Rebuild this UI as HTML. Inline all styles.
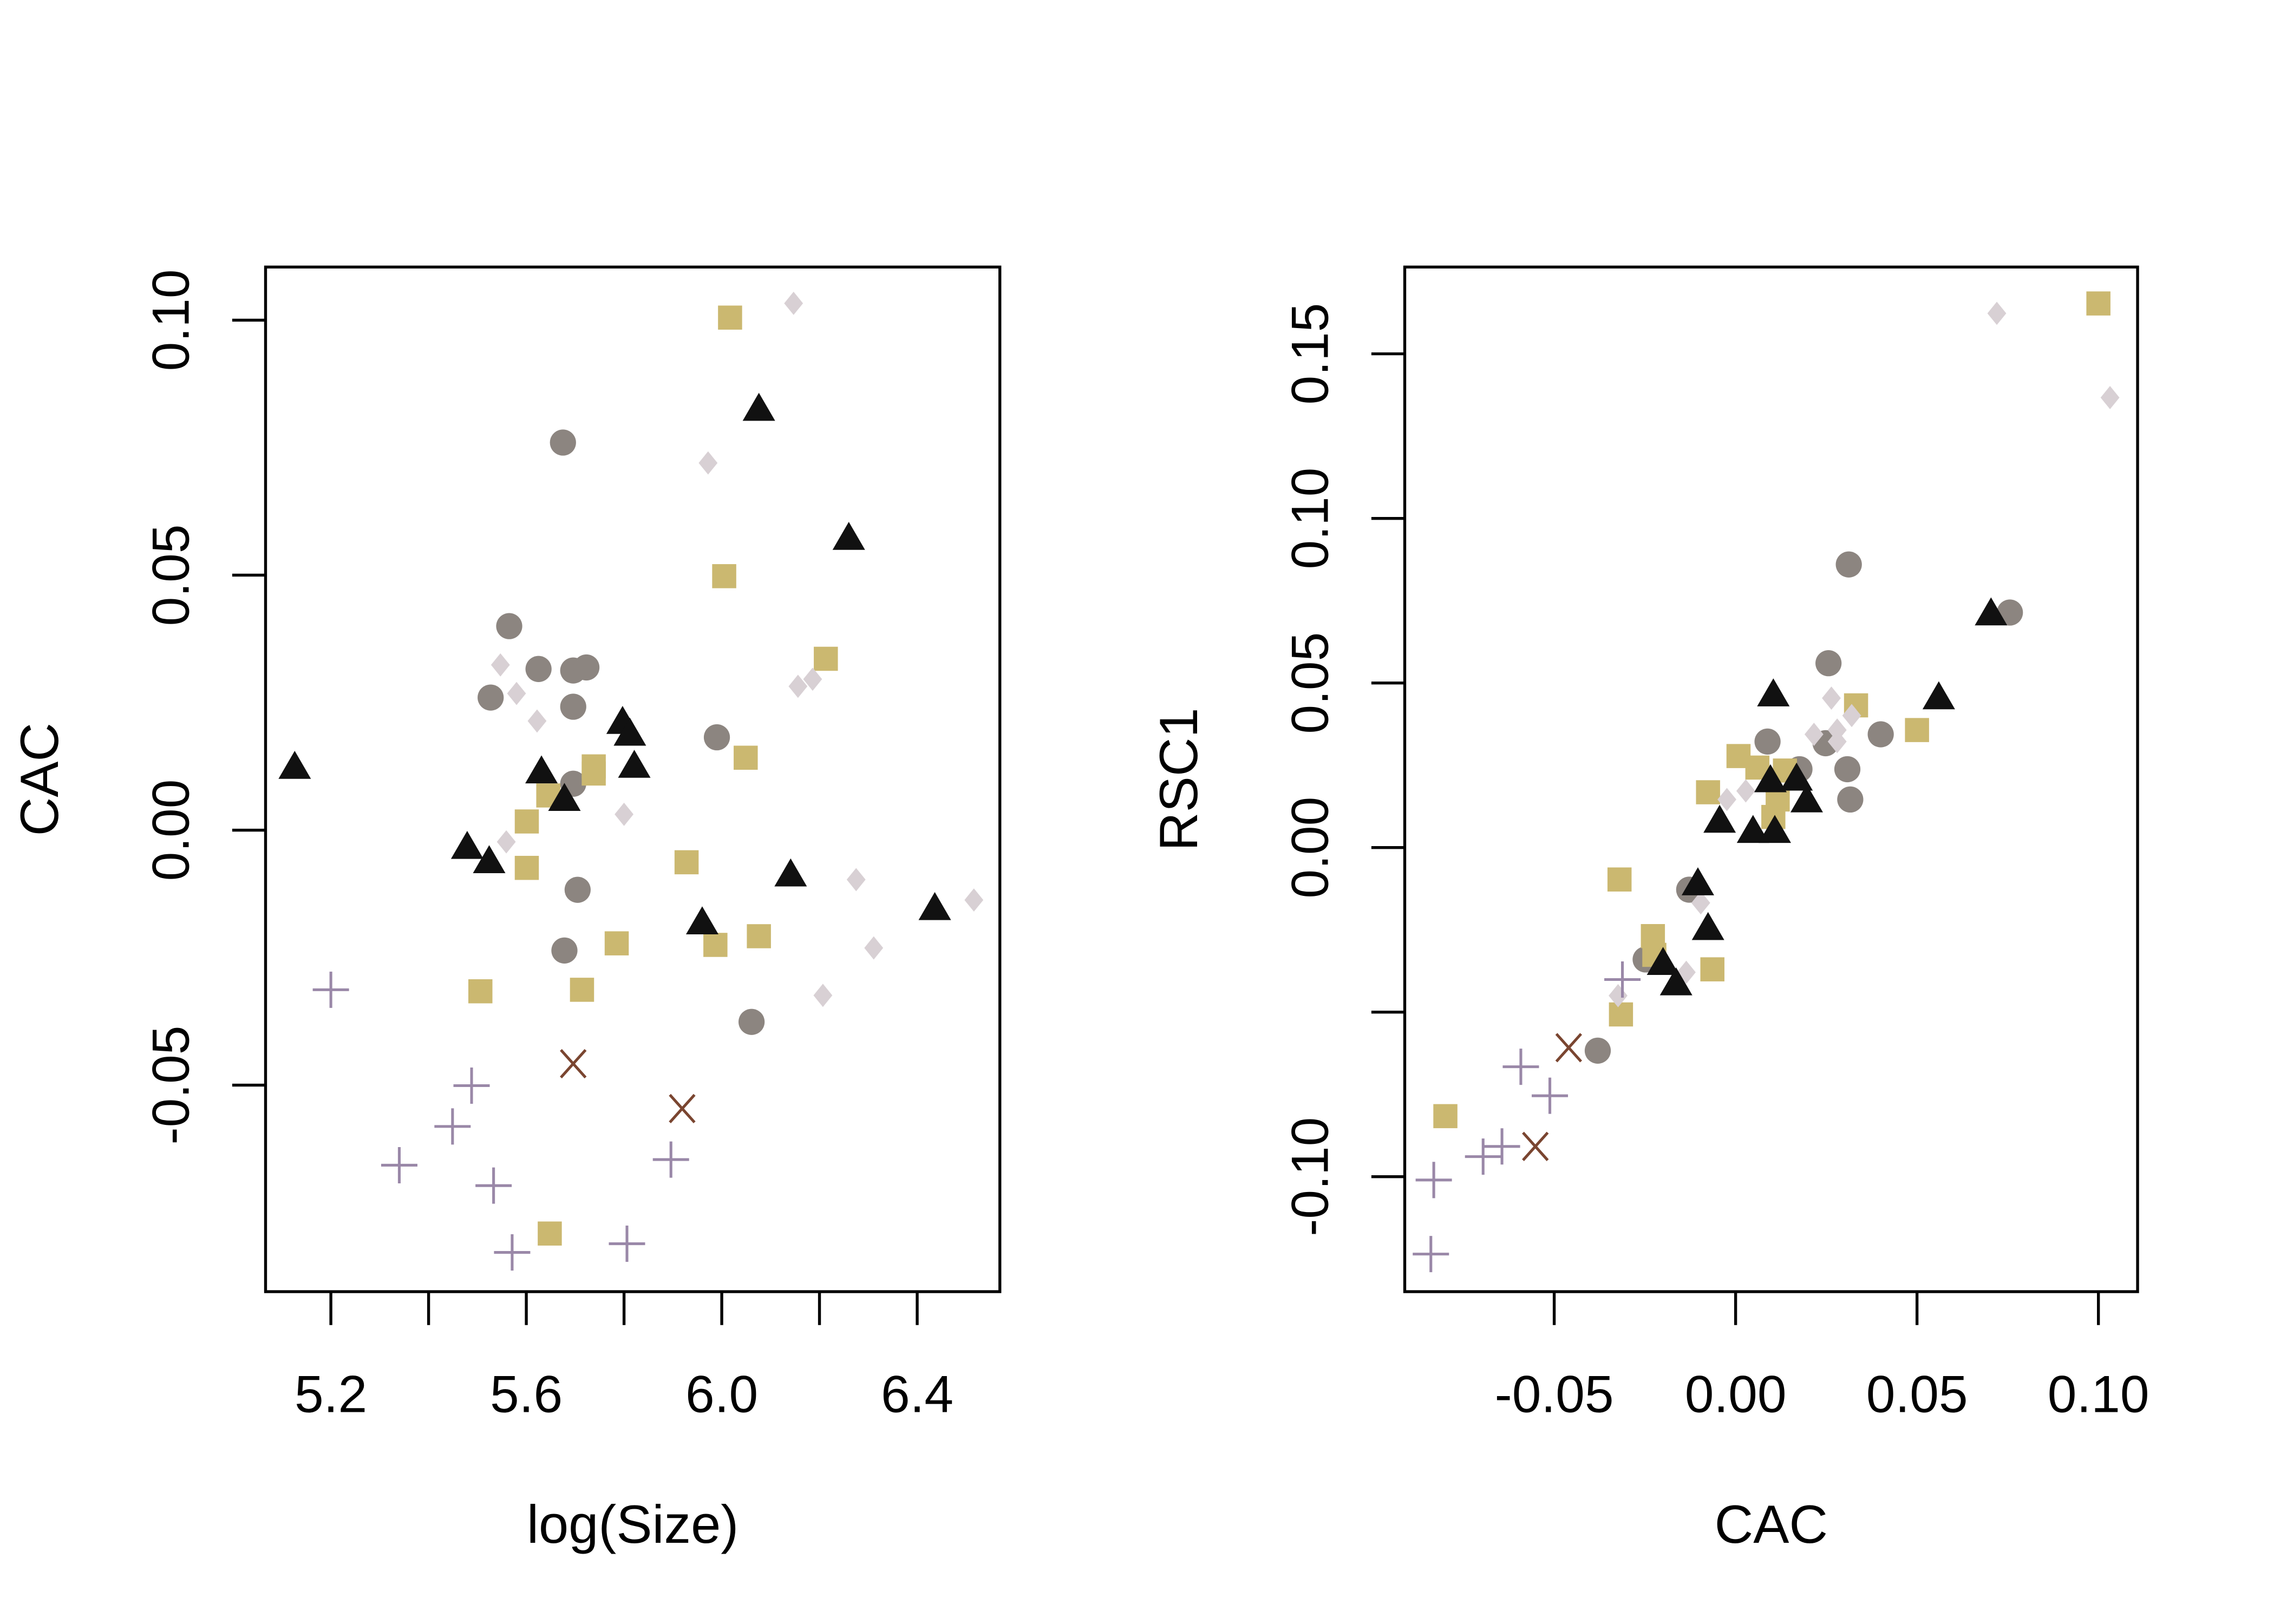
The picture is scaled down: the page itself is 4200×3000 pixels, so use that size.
<!DOCTYPE html>
<html><head><meta charset="utf-8"><style>
html,body{margin:0;padding:0;background:#fff;}
svg{display:block;}
text{font-family:"Liberation Sans",Arial,sans-serif;fill:#000;}
</style></head><body>
<svg id="chart" width="4200" height="3000" viewBox="0 0 1567 1119" preserveAspectRatio="none" xmlns="http://www.w3.org/2000/svg">
<g id="left"></g>
<g id="right"></g>
</svg>
<script>
// Left panel data: log(Size) vs CAC
const L_circle_x=[5.675,5.565,5.527,5.625,5.696,5.723,5.696,5.696,5.705,5.678,5.990,6.061];
const L_circle_y=[0.076,0.040,0.026,0.0316,0.0313,0.0319,0.0242,0.0091,-0.0117,-0.0236,0.0182,-0.0376];
const L_tri_x=[5.126,5.479,5.524,5.631,5.678,5.797,5.812,5.821,5.960,6.076,6.260,6.141,6.436];
const L_tri_y=[0.012,-0.0037,-0.0065,0.0111,0.0057,0.0208,0.0185,0.0122,-0.0185,0.0822,0.0569,-0.0091,-0.0157];
const L_sq_x=[6.017,6.005,6.213,6.049,5.738,5.738,5.645,5.601,5.601,5.928,5.785,5.987,6.076,5.506,5.714,5.648];
const L_sq_y=[0.1005,0.0498,0.0336,0.0142,0.0125,0.0111,0.0068,0.0017,-0.0074,-0.0063,-0.0222,-0.0225,-0.0208,-0.0316,-0.0313,-0.0791];
const L_dia_x=[6.147,5.972,5.547,5.580,5.622,5.559,5.800,6.156,6.186,6.275,6.311,6.207,6.516];
const L_dia_y=[0.1033,0.072,0.0324,0.0268,0.0214,-0.0023,0.0031,0.0282,0.0296,-0.0097,-0.0231,-0.0324,-0.0137];
const L_plus_x=[5.200,5.488,5.449,5.340,5.533,5.571,5.806,5.896];
const L_plus_y=[-0.0313,-0.0501,-0.0581,-0.0657,-0.0697,-0.0828,-0.0811,-0.0646];
const L_x_x=[5.696,5.919];
const L_x_y=[-0.0458,-0.0546];
const L_xticks=[5.2,5.4,5.6,5.8,6.0,6.2,6.4];
const L_xlabels=["5.2","","5.6","","6.0","","6.4"];
const L_yticks=[-0.05,0.00,0.05,0.10];
const L_ylabels=["-0.05","0.00","0.05","0.10"];
// Right panel data: CAC vs RSC1
const R_circle_x=[0.0312,0.0756,0.0256,0.0088,0.0176,0.0248,0.04,0.0308,0.0316,-0.0128,-0.0248,-0.038];
const R_circle_y=[0.0860,0.0714,0.0560,0.0322,0.0238,0.0317,0.0344,0.0238,0.0146,-0.0128,-0.034,-0.0617];
const R_tri_x=[0.0704,0.056,0.0104,0.0096,0.0168,0.0196,0.0048,0.0108,-0.0044,-0.0104,-0.0076,-0.02,-0.0164];
const R_tri_y=[0.0705,0.045,0.0459,0.0198,0.0203,0.0137,0.0044,0.0044,0.0075,-0.0115,-0.0251,-0.0357,-0.0419];
const R_sq_x=[0.1,0.0332,0.05,0.0008,0.006,0.0136,-0.0076,0.0116,0.0104,-0.032,-0.0228,-0.0224,-0.0064,-0.0316,-0.08];
const R_sq_y=[0.1653,0.0432,0.0357,0.0278,0.0243,0.0234,0.0168,0.0146,0.0093,-0.0097,-0.0269,-0.0326,-0.037,-0.0507,-0.0816];
const R_dia_x=[0.072,0.1032,0.0264,0.032,0.0216,0.028,-0.0024,0.0028,-0.0096,-0.0136,-0.0324,0.028];
const R_dia_y=[0.1623,0.1367,0.0454,0.0401,0.0344,0.0322,0.0146,0.0172,-0.0168,-0.0379,-0.045,0.0357];
const R_plus_x=[-0.0312,-0.0592,-0.0512,-0.0644,-0.0696,-0.0832,-0.084];
const R_plus_y=[-0.0401,-0.0666,-0.0754,-0.0908,-0.0939,-0.101,-0.1235];
const R_x_x=[-0.046,-0.0552];
const R_x_y=[-0.0608,-0.0908];
const R_xticks=[-0.05,0.00,0.05,0.10];
const R_xlabels=["-0.05","0.00","0.05","0.10"];
const R_yticks=[-0.10,-0.05,0.00,0.05,0.10,0.15];
const R_ylabels=["-0.10","","0.00","0.05","0.10","0.15"];

const NS="http://www.w3.org/2000/svg";
function mk(tag,attrs,parent){const e=document.createElementNS(NS,tag);for(const k in attrs)e.setAttribute(k,attrs[k]);parent.appendChild(e);return e;}

function panel(g,box,sx,sy,xticks,xlabels,yticks,ylabels,xtitle,ytitle,series){
  const r=mk('rect',{x:box.x0,y:box.y0,width:box.x1-box.x0,height:box.y1-box.y0,fill:'none',stroke:'#000','stroke-width':2},g);
  
  
  xticks.forEach((v,i)=>{
    const x=sx(v);
    const t=mk('line',{x1:x,x2:x,y1:box.y1,y2:box.y1+23,stroke:'#000','stroke-width':2},g);
    
    
    if(xlabels[i]){
      const tx=mk('text',{x:x,y:box.y1+83,'font-size':36,'text-anchor':'middle'},g);
      tx.textContent=xlabels[i];
      
      
    }
  });
  yticks.forEach((v,i)=>{
    const y=sy(v);
    const t=mk('line',{x1:box.x0-23,x2:box.x0,y1:y,y2:y,stroke:'#000','stroke-width':2},g);
    
    
    if(ylabels[i]){
      const tx=mk('text',{x:0,y:0,'font-size':36,'text-anchor':'middle',transform:`translate(${box.x0-53},${y}) rotate(-90)`},g);
      tx.textContent=ylabels[i];
      
      
    }
  });
  const xt=mk('text',{x:(box.x0+box.x1)/2,y:box.y1+173,'font-size':37,'text-anchor':'middle'},g);
  xt.textContent=xtitle;
  
  
  const yt=mk('text',{x:0,y:0,'font-size':37,'text-anchor':'middle',transform:`translate(${box.x0-143},${(box.y0+box.y1)/2}) rotate(-90)`},g);
  yt.textContent=ytitle;
  
  
  series.forEach(s=>{
    s.xs.forEach((xv,i)=>{
      const x=sx(xv), y=sy(s.ys[i]);
      let e;
      if(s.shape==='circle') e=mk('circle',{cx:x,cy:y,r:9,fill:'#8c8580'},g);
      else if(s.shape==='tri') e=mk('polygon',{points:`${x},${y-12.5} ${x-11.2},${y+6.8} ${x+11.2},${y+6.8}`,fill:'#111'},g);
      else if(s.shape==='sq') e=mk('rect',{x:x-8.3,y:y-8.3,width:16.6,height:16.6,fill:'#cbb870'},g);
      else if(s.shape==='dia') e=mk('polygon',{points:`${x},${y-8} ${x+6.5},${y} ${x},${y+8} ${x-6.5},${y}`,fill:'#d8d0d4'},g);
      else if(s.shape==='plus') e=mk('path',{d:`M${x-12.5},${y}H${x+12.5}M${x},${y-12.5}V${y+12.5}`,stroke:'#9a88a8','stroke-width':1.9,fill:'none'},g);
      else e=mk('path',{d:`M${x-8.5},${y-9.5}L${x+8.5},${y+9.5}M${x+8.5},${y-9.5}L${x-8.5},${y+9.5}`,stroke:'#7a4530','stroke-width':1.9,fill:'none'},g);
      
      
    });
  });
}
const lbox={x0:183,x1:689,y0:184,y1:890};
const lsx=v=>228+(v-5.2)*336.7;
const lsy=v=>572-v*3514;
panel(document.getElementById('left'),lbox,lsx,lsy,L_xticks,L_xlabels,L_yticks,L_ylabels,'log(Size)','CAC',[
 {shape:'circle',xs:L_circle_x,ys:L_circle_y,name:'circle-point'},
 {shape:'sq',xs:L_sq_x,ys:L_sq_y,name:'square-point'},
 {shape:'dia',xs:L_dia_x,ys:L_dia_y,name:'diamond-point'},
 {shape:'tri',xs:L_tri_x,ys:L_tri_y,name:'triangle-point'},
 {shape:'plus',xs:L_plus_x,ys:L_plus_y,name:'plus-point'},
 {shape:'x',xs:L_x_x,ys:L_x_y,name:'cross-point'}]);
const rbox={x0:968,x1:1473,y0:184,y1:890};
const rsx=v=>1196+v*2500;
const rsy=v=>584-v*2268;
panel(document.getElementById('right'),rbox,rsx,rsy,R_xticks,R_xlabels,R_yticks,R_ylabels,'CAC','RSC1',[
 {shape:'circle',xs:R_circle_x,ys:R_circle_y,name:'circle-point'},
 {shape:'sq',xs:R_sq_x,ys:R_sq_y,name:'square-point'},
 {shape:'dia',xs:R_dia_x,ys:R_dia_y,name:'diamond-point'},
 {shape:'tri',xs:R_tri_x,ys:R_tri_y,name:'triangle-point'},
 {shape:'plus',xs:R_plus_x,ys:R_plus_y,name:'plus-point'},
 {shape:'x',xs:R_x_x,ys:R_x_y,name:'cross-point'}]);
</script>
</body></html>
